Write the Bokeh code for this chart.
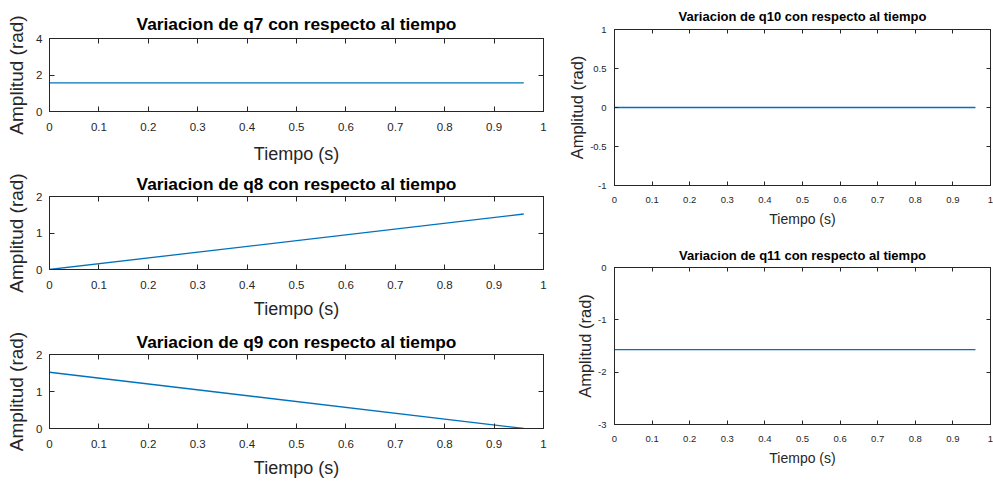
from bokeh.plotting import figure
from bokeh.layouts import row, column
from bokeh.models import FixedTicker, LinearAxis, Range1d
from bokeh.embed import file_html
from bokeh.resources import INLINE

# ---------------- data ----------------
t = [0.0, 0.96]
q7 = [1.5708, 1.5708]
q8 = [0.0, 1.52]
q9 = [1.52, 0.0]
q10 = [0.0, 0.0]
q11 = [-1.5708, -1.5708]

x_ticks = [0.0, 0.1, 0.2, 0.3, 0.4, 0.5, 0.6, 0.7, 0.8, 0.9, 1.0]
x_tick_labels = ["0", "0.1", "0.2", "0.3", "0.4", "0.5", "0.6", "0.7", "0.8", "0.9", "1"]

y7_ticks = [0, 2, 4]
y7_labels = ["0", "2", "4"]
y8_ticks = [0, 1, 2]
y8_labels = ["0", "1", "2"]
y9_ticks = [0, 1, 2]
y9_labels = ["0", "1", "2"]
y10_ticks = [-1.0, -0.5, 0.0, 0.5, 1.0]
y10_labels = ["-1", "-0.5", "0", "0.5", "1"]
y11_ticks = [-3, -2, -1, 0]
y11_labels = ["-3", "-2", "-1", "0"]

titles = ["Variacion de q7 con respecto al tiempo",
          "Variacion de q8 con respecto al tiempo",
          "Variacion de q9 con respecto al tiempo",
          "Variacion de q10 con respecto al tiempo",
          "Variacion de q11 con respecto al tiempo"]
x_label = "Tiempo (s)"
y_label = "Amplitud (rad)"

LINE = "#0072BD"
AX = "#262626"
FONT = "Liberation Sans"


def make(title, y, yr, yticks, ylabels, width, height, mb, big, title_standoff, xl_standoff):
    p = figure(width=width, height=height, output_backend="svg", toolbar_location=None,
               x_range=Range1d(0, 1), y_range=Range1d(*yr),
               min_border_left=mb[0], min_border_right=mb[1],
               min_border_top=mb[2], min_border_bottom=mb[3])
    p.background_fill_color = "white"
    p.border_fill_color = "white"
    p.outline_line_color = AX
    p.outline_line_width = 1
    p.grid.visible = False

    if big:
        tfs, tick_fs, xl_fs, yl_fs, tl = "17.3px", "11.5px", "18px", "19px", 5
    else:
        tfs, tick_fs, xl_fs, yl_fs, tl = "13px", "9.5px", "14px", "16.5px", 4

    p.title.text = title
    p.title.align = "center"
    p.title.text_font = FONT
    p.title.text_font_style = "bold"
    p.title.text_font_size = tfs
    p.title.text_color = "black"
    p.title.standoff = title_standoff

    p.line(t, y, line_color=LINE, line_width=1.3)

    xa = p.xaxis[0]
    xa.ticker = FixedTicker(ticks=x_ticks)
    xa.major_label_overrides = dict(zip(x_ticks, x_tick_labels))
    ya = p.yaxis[0]
    ya.ticker = FixedTicker(ticks=yticks)
    ya.major_label_overrides = dict(zip([float(v) for v in yticks], ylabels))
    xa.axis_label = x_label
    ya.axis_label = y_label

    for ax in (xa, ya):
        ax.major_tick_in = tl
        ax.major_tick_out = 0
        ax.minor_tick_line_color = None
        ax.axis_line_color = AX
        ax.major_tick_line_color = AX
        ax.major_label_text_color = AX
        ax.major_label_text_font = FONT
        ax.major_label_text_font_size = tick_fs
        ax.axis_label_text_color = AX
        ax.axis_label_text_font = FONT
        ax.axis_label_text_font_style = "normal"
    xa.major_label_standoff = 11
    xa.axis_label_standoff = xl_standoff
    xa.axis_label_text_font_size = xl_fs
    ya.major_label_standoff = 7 if big else 8
    ya.axis_label_standoff = 6 if big else 1
    ya.axis_label_text_font_size = yl_fs

    top = LinearAxis(ticker=FixedTicker(ticks=x_ticks), major_tick_in=tl, major_tick_out=0,
                     minor_tick_line_color=None, major_label_standoff=0,
                     major_label_text_font_size="0px", major_label_text_color=None,
                     axis_line_color=AX, major_tick_line_color=AX)
    right = LinearAxis(ticker=FixedTicker(ticks=yticks), major_tick_in=tl, major_tick_out=0,
                       minor_tick_line_color=None, major_label_standoff=0,
                       major_label_text_font_size="0px", major_label_text_color=None,
                       axis_line_color=AX, major_tick_line_color=AX)
    p.add_layout(top, "above")
    p.add_layout(right, "right")
    return p


p7 = make(titles[0], q7, (0, 4), y7_ticks, y7_labels, 560, 168, (49, 17, 38, 57), True, 9, 10)
p8 = make(titles[1], q8, (0, 2), y8_ticks, y8_labels, 560, 158, (49, 17, 27, 57), True, 6, 7)
p9 = make(titles[2], q9, (0, 2), y9_ticks, y9_labels, 560, 159, (49, 17, 27, 57), True, 6, 7)
p10 = make(titles[3], q10, (-1, 1), y10_ticks, y10_labels, 433, 240, (54, 3, 29, 55), False, 12, 5)
p11 = make(titles[4], q11, (-3, 0), y11_ticks, y11_labels, 433, 245, (54, 3, 26, 61), False, 10, 5)

layout = row(column(p7, p8, p9), column(p10, p11))

open("out.html", "w").write(file_html(layout, INLINE))
